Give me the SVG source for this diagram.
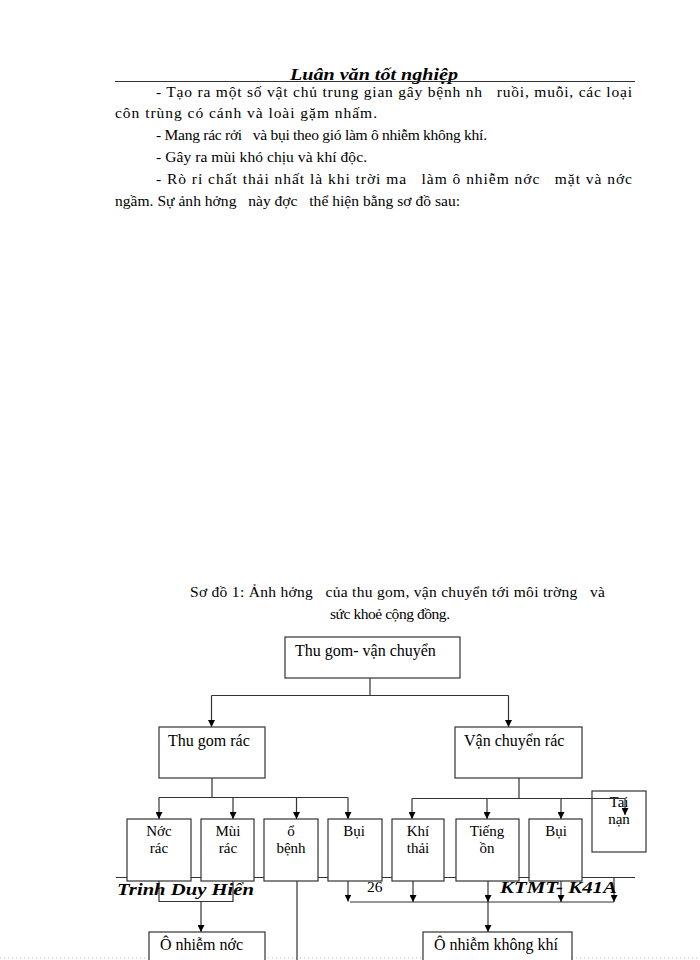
<svg xmlns="http://www.w3.org/2000/svg" width="700" height="960" viewBox="0 0 700 960" xml:space="preserve">
<style>
text{white-space:pre}
.t{font-family:"Liberation Serif","Times New Roman",serif;font-size:15.5px;fill:#000}
.b{font-family:"Liberation Serif","Times New Roman",serif;font-size:16px;fill:#000}
.m{font-family:"Liberation Serif","Times New Roman",serif;font-size:15px;fill:#000;text-anchor:middle}
.c{text-anchor:middle}
.s{font-family:"Liberation Serif",serif;font-style:italic;font-weight:bold;font-size:17px;fill:#000}
.box{fill:#fff;stroke:#333;stroke-width:1.2}
.ln{fill:none;stroke:#333;stroke-width:1.2}
</style>
<defs>
<marker id="ar" viewBox="0 0 10 10" refX="10" refY="5" markerWidth="7" markerHeight="7" markerUnits="userSpaceOnUse" orient="auto">
<path d="M0,0 L10,5 L0,10 z" fill="#000"/>
</marker>
</defs>
<rect width="700" height="960" fill="#fff"/>
<g id="header">
<text class="s" x="290" y="80" textLength="168" lengthAdjust="spacingAndGlyphs">Luân văn tốt nghiệp</text>
<line x1="115" y1="81.5" x2="635" y2="81.5" stroke="#333" stroke-width="1"/>
</g>
<g id="body">
<text class="t" x="156" y="97" textLength="476" lengthAdjust="spacing">- Tạo ra một số vật chủ trung gian gây bệnh nh   ruồi, muỗi, các loại</text>
<text class="t" x="115" y="118" textLength="262" lengthAdjust="spacing">côn trùng có cánh và loài gặm nhấm.</text>
<text class="t" x="156" y="140" textLength="331" lengthAdjust="spacing">- Mang rác rởi   và bụi theo gió làm ô nhiễm không khí.</text>
<text class="t" x="156" y="162" textLength="211" lengthAdjust="spacing">- Gây ra mùi khó chịu và khí độc.</text>
<text class="t" x="156" y="184" textLength="476" lengthAdjust="spacing">- Rò rỉ chất thải nhất là khi trời ma   làm ô nhiễm nớc   mặt và nớc</text>
<text class="t" x="115" y="206" textLength="345" lengthAdjust="spacing">ngầm. Sự ảnh hởng   này đợc   thể hiện bằng sơ đồ sau:</text>
</g>
<g id="caption">
<text class="t" x="190" y="597" textLength="415" lengthAdjust="spacing">Sơ đồ 1: Ảnh hởng   của thu gom, vận chuyển tới môi trờng   và</text>
<text class="t" x="330" y="619" textLength="120" lengthAdjust="spacing">sức khoẻ cộng đồng.</text>
</g>
<g id="footer">
<line x1="116" y1="877.5" x2="635" y2="877.5" stroke="#333" stroke-width="1"/>
<line x1="0" y1="958" x2="700" y2="958" stroke="#bbb" stroke-width="1" stroke-dasharray="1,3"/>
</g>
<g id="connectors">
<path class="ln" d="M370,678 V695.5 M211.5,695.5 H508.5"/>
<path class="ln" d="M211.5,695.5 V727" marker-end="url(#ar)"/>
<path class="ln" d="M508.5,695.5 V727" marker-end="url(#ar)"/>
<path class="ln" d="M212,778 V797.5 M159,797.5 H348"/>
<path class="ln" d="M159,797.5 V819" marker-end="url(#ar)"/>
<path class="ln" d="M233,797.5 V819" marker-end="url(#ar)"/>
<path class="ln" d="M296.5,797.5 V819" marker-end="url(#ar)"/>
<path class="ln" d="M348,797.5 V819" marker-end="url(#ar)"/>
<path class="ln" d="M519,778 V798.5 M412,798.5 H625"/>
<path class="ln" d="M412,798.5 V819" marker-end="url(#ar)"/>
<path class="ln" d="M487,798.5 V819" marker-end="url(#ar)"/>
<path class="ln" d="M561,798.5 V819" marker-end="url(#ar)"/>
</g>
<g id="n-thugom-vanchuyen"><rect class="box" x="285" y="637" width="175" height="41"/><text class="b" x="295" y="656">Thu gom- vận chuyển</text></g>
<g id="n-thugomrac"><rect class="box" x="159" y="727" width="106" height="51"/><text class="b" x="168" y="746">Thu gom rác</text></g>
<g id="n-vanchuyenrac"><rect class="box" x="455" y="727" width="127" height="51"/><text class="b" x="464" y="746">Vận chuyển rác</text></g>
<g id="n-taina"><rect class="box" x="592" y="791" width="54" height="61"/><text class="m" x="619" y="807">Tai</text><text class="m" x="619" y="824">nạn</text></g>
<path class="ln" d="M592,798.5 H625 V815" marker-end="url(#ar)"/>
<g id="n-nuocrac"><rect class="box" x="127" y="819" width="64" height="62"/><text class="m" x="159" y="836">Nớc</text><text class="m" x="159" y="853">rác</text></g>
<g id="n-muirac"><rect class="box" x="201" y="819" width="53" height="62"/><text class="m" x="228" y="836">Mùi</text><text class="m" x="228" y="853">rác</text></g>
<g id="n-obenh"><rect class="box" x="264" y="819" width="54" height="62"/><text class="m" x="291" y="836">ổ</text><text class="m" x="291" y="853">bệnh</text></g>
<g id="n-bui1"><rect class="box" x="328" y="819" width="54" height="62"/><text class="m" x="354" y="836">Bụi</text></g>
<g id="n-khithai"><rect class="box" x="392" y="819" width="52" height="62"/><text class="m" x="418" y="836">Khí</text><text class="m" x="418" y="853">thải</text></g>
<g id="n-tiengon"><rect class="box" x="456" y="819" width="63" height="62"/><text class="m" x="487" y="836">Tiếng</text><text class="m" x="487" y="853">ồn</text></g>
<g id="n-bui2"><rect class="box" x="529" y="819" width="53" height="62"/><text class="m" x="556" y="836">Bụi</text></g>
<g id="connectors2">
<path class="ln" d="M159,881 V901.5 H233 V881"/>
<path class="ln" d="M201,901.5 V932" marker-end="url(#ar)"/>
<path class="ln" d="M297,881 V960"/>
<path class="ln" d="M348,881 V901.5" marker-end="url(#ar)"/>
<path class="ln" d="M350,902 H614"/>
<path class="ln" d="M413,881 V902" marker-end="url(#ar)"/>
<path class="ln" d="M488,881 V902" marker-end="url(#ar)"/>
<path class="ln" d="M561,881 V902" marker-end="url(#ar)"/>
<path class="ln" d="M614,878 V902" marker-end="url(#ar)"/>
<path class="ln" d="M488,902 V932" marker-end="url(#ar)"/>
</g>
<g id="n-onhiemnuoc"><rect class="box" x="149" y="932" width="116" height="40"/><text class="b" x="160" y="950">Ô nhiễm nớc</text></g>
<g id="n-onhiemkhongkhi"><rect class="box" x="423" y="932" width="149" height="40"/><text class="b" x="434" y="950">Ô nhiễm không khí</text></g>
<g id="footer-text">
<text class="s" x="117" y="895" textLength="137" lengthAdjust="spacingAndGlyphs">Trinh Duy Hiển</text>
<text class="t" x="367" y="892">26</text>
<text class="s" x="500" y="893" textLength="117" lengthAdjust="spacingAndGlyphs">KTMT- K41A</text>
</g>
</svg>
